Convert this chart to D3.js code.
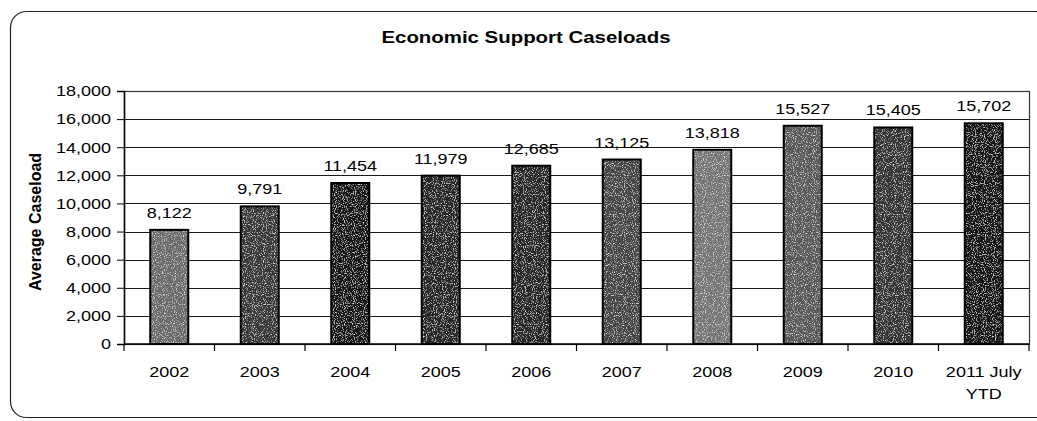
<!DOCTYPE html>
<html><head><meta charset="utf-8">
<script src="https://cdn.jsdelivr.net/npm/d3@7"></script>
<style>
html,body{margin:0;padding:0;background:#fff;}
svg text{font-family:"Liberation Sans",Arial,sans-serif;fill:#000;}
</style></head>
<body><svg id="c" width="1037" height="421"></svg>
<script>
const categories = ["2002","2003","2004","2005","2006","2007","2008","2009","2010","2011 July|YTD"];
const caseloads = [8122,9791,11454,11979,12685,13125,13818,15527,15405,15702];
const yTicks = [0,2000,4000,6000,8000,10000,12000,14000,16000,18000];
const barShades = ["#6a6a6a","#383838","#181818","#262626","#262626","#444444","#747474","#585858","#363636","#121212"];
const title = "Economic Support Caseloads";
const yTitle = "Average Caseload";

const svg = d3.select("#c");
const W = 1037, H = 421;
const m = {left:124, top:91, right:W-1029, bottom:H-344};
const pw = W - m.left - m.right, ph = H - m.top - m.bottom;
const STRETCH = 1.2;
function stretch(sel){
  sel.each(function(){
    const L = this.getComputedTextLength();
    d3.select(this).attr("textLength", L*STRETCH).attr("lengthAdjust","spacingAndGlyphs");
  });
}

// texture filter
const defs = svg.append("defs");
const f = defs.append("filter").attr("id","grain").attr("x","0").attr("y","0").attr("width","1").attr("height","1");
f.append("feTurbulence").attr("type","fractalNoise").attr("baseFrequency","0.9").attr("numOctaves","1").attr("seed","3").attr("result","n");
f.append("feColorMatrix").attr("in","n").attr("type","matrix")
 .attr("values","0 0 0 0 1  0 0 0 0 1  0 0 0 0 1  3 0 0 0 -1.6").attr("result","w");
f.append("feComposite").attr("in","w").attr("in2","SourceGraphic").attr("operator","in").attr("result","wm");
f.append("feMerge").selectAll("feMergeNode").data(["SourceGraphic","wm"]).join("feMergeNode").attr("in",d=>d);

// frame
svg.append("rect").attr("x",10.5).attr("y",11.5).attr("width",1040).attr("height",406)
  .attr("rx",16).attr("fill","none").attr("stroke","#222").attr("stroke-width",1.2);

// title
svg.append("text").attr("x",526).attr("y",43).attr("text-anchor","middle")
  .attr("font-size",17).attr("font-weight","bold").text(title).call(stretch);

const x = d3.scaleBand().domain(categories).range([m.left, m.left+pw]).paddingInner(0.58).paddingOuter(0.29);
const xb = d3.scaleBand().domain(categories).range([m.left, m.left+pw]);
const y = d3.scaleLinear().domain([0,18000]).range([m.top+ph, m.top]);

// gridlines
svg.append("g").selectAll("line").data(yTicks.filter(d=>d>0 && d<18000)).join("line")
  .attr("x1",m.left).attr("x2",m.left+pw).attr("y1",d=>Math.round(y(d))+0.5).attr("y2",d=>Math.round(y(d))+0.5)
  .attr("stroke","#1a1a1a").attr("stroke-width",1);

// plot border
svg.append("rect").attr("x",m.left+0.5).attr("y",m.top+0.5).attr("width",pw).attr("height",ph)
  .attr("fill","none").attr("stroke","#333").attr("stroke-width",1.2);

// bars (textured fill + separate outline)
const bars = svg.append("g");
bars.selectAll("rect.fill").data(caseloads).join("rect").attr("class","fill")
  .attr("x",(d,i)=>x(categories[i])).attr("width",x.bandwidth())
  .attr("y",d=>y(d)).attr("height",d=>y(0)-y(d))
  .attr("fill",(d,i)=>barShades[i]).attr("filter","url(#grain)");
bars.selectAll("rect.edge").data(caseloads).join("rect").attr("class","edge")
  .attr("x",(d,i)=>x(categories[i])).attr("width",x.bandwidth())
  .attr("y",d=>y(d)).attr("height",d=>y(0)-y(d))
  .attr("fill","none").attr("stroke","#000").attr("stroke-width",2);

// value labels
svg.append("g").selectAll("text").data(caseloads).join("text")
  .attr("x",(d,i)=>x(categories[i])+x.bandwidth()/2).attr("y",d=>y(d)-12)
  .attr("text-anchor","middle").attr("font-size",15).text(d3.format(","))
  .call(stretch);

// y axis
const ya = svg.append("g").attr("transform",`translate(${m.left},0)`)
  .call(d3.axisLeft(y).tickValues(yTicks).tickFormat(d3.format(",")).tickSize(7).tickPadding(6));
ya.select(".domain").attr("stroke","#000").attr("stroke-width",1.5);
ya.selectAll(".tick line").attr("stroke","#000");
ya.selectAll("text").attr("font-size",15).attr("font-family","Liberation Sans, Arial, sans-serif").attr("fill","#000").call(stretch);

// x axis
const xa = svg.append("g").attr("transform",`translate(0,${m.top+ph})`);
xa.append("line").attr("x1",m.left).attr("x2",m.left+pw).attr("stroke","#000").attr("stroke-width",1.5);
xa.selectAll("line.t").data(categories.concat(["end"])).join("line").attr("class","t")
  .attr("x1",(d,i)=>i<categories.length? xb(d): m.left+pw).attr("x2",(d,i)=>i<categories.length? xb(d): m.left+pw)
  .attr("y1",0).attr("y2",7).attr("stroke","#000").attr("stroke-width",1.2);
const xl = xa.selectAll("text").data(categories).join("text")
  .attr("x",d=>xb(d)+xb.bandwidth()/2).attr("y",33).attr("text-anchor","middle").attr("font-size",15);
xl.each(function(d){
  const parts = d.split("|");
  const t = d3.select(this);
  parts.forEach((p,i)=>{
    t.append("tspan").attr("x",xb(d)+xb.bandwidth()/2).attr("dy",i===0?0:22).text(p);
  });
});
xl.selectAll("tspan").call(stretch);

// y title
svg.append("text").attr("transform","translate(41,222) rotate(-90)").attr("text-anchor","middle")
  .attr("font-size",16).attr("font-weight","bold").text(yTitle);
</script>
</body></html>
